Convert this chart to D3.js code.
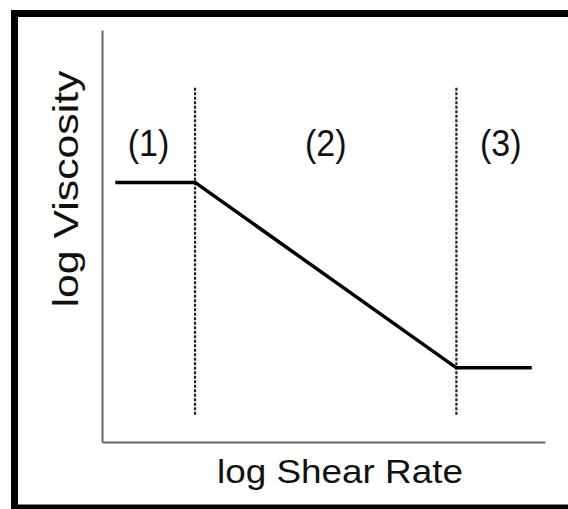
<!DOCTYPE html>
<html>
<head>
<meta charset="utf-8">
<script src="https://cdn.jsdelivr.net/npm/d3@7"></script>
<style>
  html, body { margin: 0; padding: 0; background: #fff; }
  svg { display: block; }
  text { font-family: "Liberation Sans", Arial, sans-serif; fill: #111; }
</style>
</head>
<body>
<svg id="chart" width="568" height="509"></svg>
<script>
// ---- data ----
const shearRate = [0.3, 2.1, 8.0, 9.7];        // log shear rate (arbitrary units)
const viscosity = [6.3, 6.3, 1.8, 1.8];        // log viscosity (arbitrary units)
const regionBounds = [0, 2.1, 8.0, 10];        // region boundaries on x
const regionLabels = ["(1)", "(2)", "(3)"];
const xTitle = "log Shear Rate";
const yTitle = "log Viscosity";

// ---- layout ----
const svg = d3.select("#chart");
const x = d3.scaleLinear().domain([0, 10]).range([102, 545]);
const y = d3.scaleLinear().domain([0, 10]).range([442, 30]);

// outer frame
svg.append("rect")
  .attr("x", 14.5).attr("y", 13.5)
  .attr("width", 570).attr("height", 494.5)
  .attr("fill", "none").attr("stroke", "#000").attr("stroke-width", 7);

// axes (plain lines, no ticks)
const xAxis = d3.axisBottom(x).tickValues([]).tickSizeOuter(0);
const yAxis = d3.axisLeft(y).tickValues([]).tickSizeOuter(0);
svg.append("g").attr("transform", `translate(0,${y(0)})`).call(xAxis)
  .select(".domain").attr("stroke", "#666").attr("stroke-width", 2);
svg.append("g").attr("transform", `translate(${x(0)},0)`).call(yAxis)
  .select(".domain").attr("stroke", "#666").attr("stroke-width", 2);

// dashed region separators
const seps = regionBounds.slice(1, -1);
svg.selectAll("line.sep").data(seps).enter().append("line")
  .attr("class", "sep")
  .attr("x1", d => x(d)).attr("x2", d => x(d))
  .attr("y1", y(8.6)).attr("y2", y(0.65))
  .attr("stroke", "#222").attr("stroke-width", 2.2)
  .attr("stroke-dasharray", "3,1.5");

// viscosity curve
const pts = shearRate.map((s, i) => [s, viscosity[i]]);
svg.append("path")
  .datum(pts)
  .attr("d", d3.line().x(d => x(d[0])).y(d => y(d[1])))
  .attr("fill", "none").attr("stroke", "#000").attr("stroke-width", 3.5)
  .attr("stroke-linejoin", "miter");

// region labels
svg.selectAll("text.reg").data(regionLabels).enter().append("text")
  .attr("class", "reg")
  .attr("transform", (d, i) =>
    `translate(${x((regionBounds[i] + regionBounds[i + 1]) / 2)},156) scale(1,1.1)`)
  .attr("text-anchor", "middle")
  .attr("font-size", 34)
  .text(d => d);

// axis titles
svg.append("text")
  .attr("x", 340).attr("y", 483)
  .attr("text-anchor", "middle")
  .attr("font-size", 34)
  .attr("textLength", 246).attr("lengthAdjust", "spacingAndGlyphs")
  .text(xTitle);

svg.append("text")
  .attr("transform", "translate(78,189) rotate(-90)")
  .attr("text-anchor", "middle")
  .attr("font-size", 35)
  .attr("textLength", 237).attr("lengthAdjust", "spacingAndGlyphs")
  .text(yTitle);
</script>
</body>
</html>
